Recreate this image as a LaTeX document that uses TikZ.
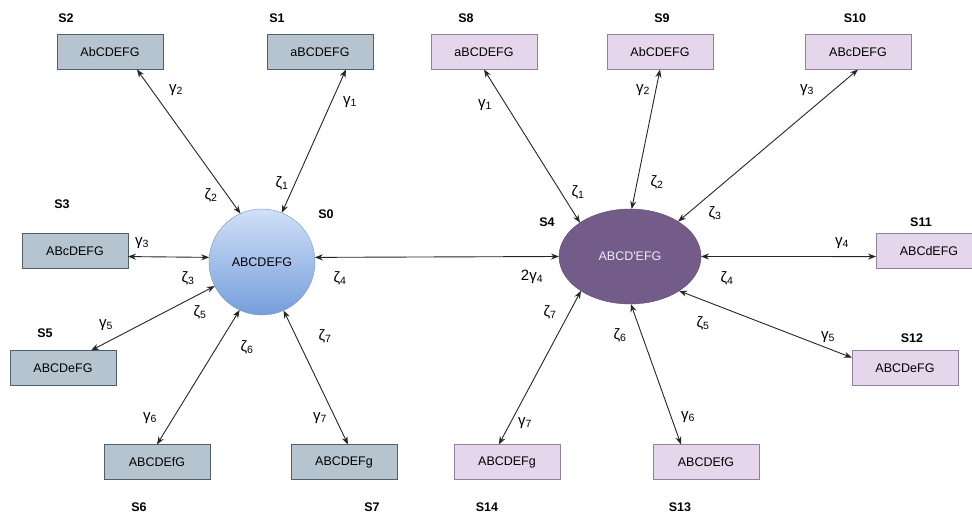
\documentclass[tikz,border=0pt]{standalone}
\usepackage{fontspec}
\setmainfont{Liberation Sans}
\usetikzlibrary{arrows.meta, positioning, shapes.geometric}
\usepackage{xcolor}

\definecolor{slatefill}{RGB}{181,196,207}
\definecolor{slateedge}{RGB}{80,95,108}
\definecolor{lilacfill}{RGB}{229,214,235}
\definecolor{lilacedge}{RGB}{145,128,158}
\definecolor{plumfill}{RGB}{116,92,138}
\definecolor{plumedge}{RGB}{92,70,112}
\definecolor{skytop}{RGB}{208,224,247}
\definecolor{skybottom}{RGB}{118,158,220}
\definecolor{skyedge}{RGB}{120,150,198}

\newcommand{\gcoef}[1]{γ\textsubscript{#1}}
\newcommand{\zcoef}[1]{ζ\textsubscript{#1}}

\tikzset{
  slatebox/.style={draw=slateedge, fill=slatefill, minimum width=106pt, minimum height=35pt,
    inner sep=0pt, outer sep=0pt, font=\fontsize{12.5}{14}\selectfont},
  lilacbox/.style={slatebox, draw=lilacedge, fill=lilacfill},
  tag/.style={font=\fontsize{12.5}{14}\selectfont\bfseries},
  coef/.style={font=\fontsize{15}{17}\selectfont},
  link/.style={{Stealth[length=8pt,width=6pt]}-{Stealth[length=8pt,width=6pt]}, draw=black!85, line width=0.9pt},
}

\begin{document}
\begin{tikzpicture}[x=1pt, y=-1pt]
    \useasboundingbox[fill=white] (0,0) rectangle (972,518);

    % Central factors
    \node[circle, draw=skyedge, top color=skytop, bottom color=skybottom, minimum size=106pt,
      inner sep=0pt, outer sep=0pt, font=\fontsize{12.5}{14}\selectfont] (s0) at (262,262) {ABCDEFG};
    \node[ellipse, draw=plumedge, fill=plumfill, minimum width=142pt, minimum height=95pt,
      inner sep=0pt, outer sep=0pt, text=white!88!plumfill, font=\fontsize{12.5}{14}\selectfont]
      (s4) at (630,256.5) {ABCD\textquotesingle EFG};

    % Left indicators
    \node[slatebox] (s2) at (110,52) {AbCDEFG};
    \node[slatebox] (s1) at (320,52) {aBCDEFG};
    \node[slatebox] (s3) at (75,251) {ABcDEFG};
    \node[slatebox] (s5) at (63,368) {ABCDeFG};
    \node[slatebox] (s6) at (157,462) {ABCDEfG};
    \node[slatebox] (s7) at (344,462) {ABCDEFg};

    % Right indicators
    \node[lilacbox] (s8) at (484,52) {aBCDEFG};
    \node[lilacbox] (s9) at (660,52) {AbCDEFG};
    \node[lilacbox] (s10) at (858,52) {ABcDEFG};
    \node[lilacbox] (s11) at (929,251) {ABCdEFG};
    \node[lilacbox] (s12) at (905,368) {ABCDeFG};
    \node[lilacbox] (s13) at (706,462) {ABCDEfG};
    \node[lilacbox] (s14) at (507,462) {ABCDEFg};

    % Tags
    \node[tag] (t2) at (66,18) {S2};
    \node[tag] (t1) at (277,18) {S1};
    \node[tag] (t3) at (62,204) {S3};
    \node[tag] (t0) at (326,214) {S0};
    \node[tag] (t5) at (45,333) {S5};
    \node[tag] (t6) at (139,507) {S6};
    \node[tag] (t7) at (372,507) {S7};
    \node[tag] (t8) at (466,18) {S8};
    \node[tag] (t9) at (662,18) {S9};
    \node[tag] (t10) at (855,18) {S10};
    \node[tag] (t4) at (547,222) {S4};
    \node[tag] (t11) at (921,222) {S11};
    \node[tag] (t12) at (912,338) {S12};
    \node[tag] (t14) at (487,507) {S14};
    \node[tag] (t13) at (680,507) {S13};

    % Links
    \draw[link] (s2.-33) -- (s0.114);
    \draw[link] (s1.-34) -- (s0.68);
    \draw[link] (s3.-6) -- (s0.175);
    \draw[link] (s5.32) -- (s0.207);
    \draw[link] (s6.north) -- (s0.245);
    \draw[link] (s7.77) -- (s0.294);
    \draw[link] (s0.5) -- (s4.west);
    \draw[link] (s8.south) -- (s4.146);
    \draw[link] (s9.south) -- (s4.88);
    \draw[link] (s10.south) -- (s4.36);
    \draw[link] (s11.186) -- (s4.east);
    \draw[link] (s12.169) -- (s4.-35);
    \draw[link] (s13.145) -- (s4.-89);
    \draw[link] (s14.115) -- (s4.215);

    % Coefficients, left
    \node[coef] (g2) at (176,90) {\gcoef{2}};
    \node[coef] (g1) at (350,102) {\gcoef{1}};
    \node[coef] (z2) at (211,195) {\zcoef{2}};
    \node[coef] (z1) at (282,183) {\zcoef{1}};
    \node[coef] (g3) at (142,243) {\gcoef{3}};
    \node[coef] (z3) at (188,278) {\zcoef{3}};
    \node[coef] (z4) at (340,278) {\zcoef{4}};
    \node[coef] (z5) at (200,312) {\zcoef{5}};
    \node[coef] (g5) at (106,325) {\gcoef{5}};
    \node[coef] (z6) at (247,347) {\zcoef{6}};
    \node[coef] (z7) at (325,336) {\zcoef{7}};
    \node[coef] (g6) at (150,418) {\gcoef{6}};
    \node[coef] (g7) at (320,418) {\gcoef{7}};

    % Coefficients, right
    \node[coef] (h1) at (485,105) {\gcoef{1}};
    \node[coef] (h2) at (643,90) {\gcoef{2}};
    \node[coef] (h3) at (807,90) {\gcoef{3}};
    \node[coef] (y1) at (578,192) {\zcoef{1}};
    \node[coef] (y2) at (657,182) {\zcoef{2}};
    \node[coef] (y3) at (715,213) {\zcoef{3}};
    \node[coef] (h4) at (842,243) {\gcoef{4}};
    \node[coef] (h0) at (532,277) {2\gcoef{4}};
    \node[coef] (y4) at (727,278) {\zcoef{4}};
    \node[coef] (y5) at (703,323) {\zcoef{5}};
    \node[coef] (h5) at (828,337) {\gcoef{5}};
    \node[coef] (y7) at (550,312) {\zcoef{7}};
    \node[coef] (y6) at (620,335) {\zcoef{6}};
    \node[coef] (h7) at (525,423) {\gcoef{7}};
    \node[coef] (h6) at (688,417) {\gcoef{6}};
\end{tikzpicture}
\end{document}
